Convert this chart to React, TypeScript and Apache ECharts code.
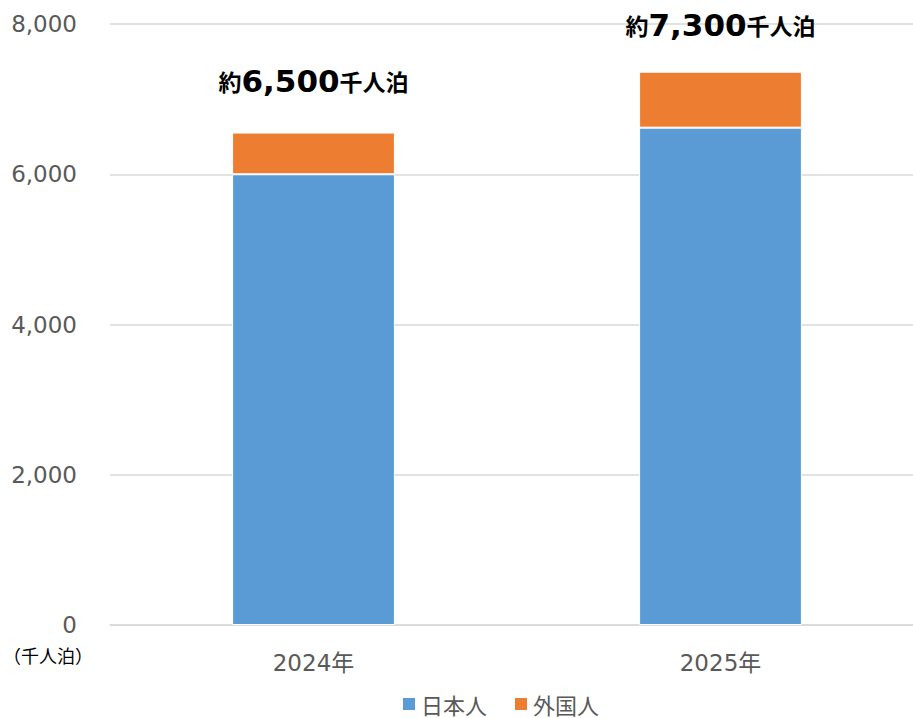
import React, { useEffect, useRef } from "react";
import * as echarts from "echarts";

const categories = ["2024年", "2025年"];
const japanese = [6000, 6620];
const foreign = [555, 745];
const totalLabels = ["6,500", "7,300"];
const yTicks = [0, 2000, 4000, 6000, 8000];

const FONT = "'DejaVu Sans', 'Noto Sans CJK JP', sans-serif";
const CJK = "'Noto Sans CJK JP', sans-serif";

export default function App() {
  const ref = useRef<HTMLDivElement>(null);
  useEffect(() => {
    const chart = echarts.init(ref.current!, null, { renderer: "svg" });
    chart.setOption({
      animation: false,
      textStyle: { fontFamily: FONT },
      grid: { left: 110, right: 0, top: 24, bottom: 93 },
      legend: {
        top: 687,
        left: 396,
        itemWidth: 14,
        itemHeight: 14,
        itemGap: 26,
        icon: "rect",
        textStyle: { fontSize: 22, lineHeight: 24, color: "#595959", fontFamily: CJK },
        data: ["日本人", "外国人"],
      },
      xAxis: {
        type: "category",
        data: categories,
        axisLine: { show: true, lineStyle: { color: "#d9d9d9", width: 1.5 } },
        axisTick: { show: false },
        axisLabel: { fontSize: 23, color: "#595959", margin: 26, fontFamily: FONT },
      },
      yAxis: {
        type: "value",
        min: yTicks[0],
        max: yTicks[yTicks.length - 1],
        interval: 2000,
        axisLine: { show: false },
        axisTick: { show: false },
        splitLine: { lineStyle: { color: "#d9d9d9", width: 1.5 } },
        axisLabel: {
          fontSize: 23,
          color: "#595959",
          margin: 33,
          fontFamily: FONT,
          formatter: (v: number) => v.toLocaleString("en-US"),
        },
      },
      graphic: [
        {
          type: "text",
          left: 3,
          top: 646,
          style: { text: "（千人泊）", fontSize: 18, fill: "#000", fontFamily: CJK },
        },
      ],
      series: [
        {
          name: "日本人",
          type: "bar",
          stack: "total",
          barWidth: "40%",
          data: japanese,
          itemStyle: { color: "#5B9BD5", borderColor: "#fff", borderWidth: 1 },
        },
        {
          name: "外国人",
          type: "bar",
          stack: "total",
          barWidth: "40%",
          itemStyle: { color: "#ED7D31", borderColor: "#fff", borderWidth: 1 },
          data: foreign.map((v, i) => ({
            value: v,
            label: {
              show: true,
              position: "top",
              distance: i === 0 ? 36 : 31,
              formatter: `{a|約}{b|${totalLabels[i]}}{a|千人泊}`,
              rich: {
                a: { fontSize: 23, fontWeight: "bold", color: "#000", fontFamily: CJK },
                b: { fontSize: 31, fontWeight: "bold", color: "#000", fontFamily: FONT },
              },
            },
          })),
        },
      ],
    });
    return () => chart.dispose();
  }, []);
  return (
    <div style={{ position: "fixed", left: 0, top: 0, width: 913, height: 718, overflow: "hidden", background: "#fff" }}>
      <div ref={ref} style={{ width: 924, height: 718 }} />
    </div>
  );
}
